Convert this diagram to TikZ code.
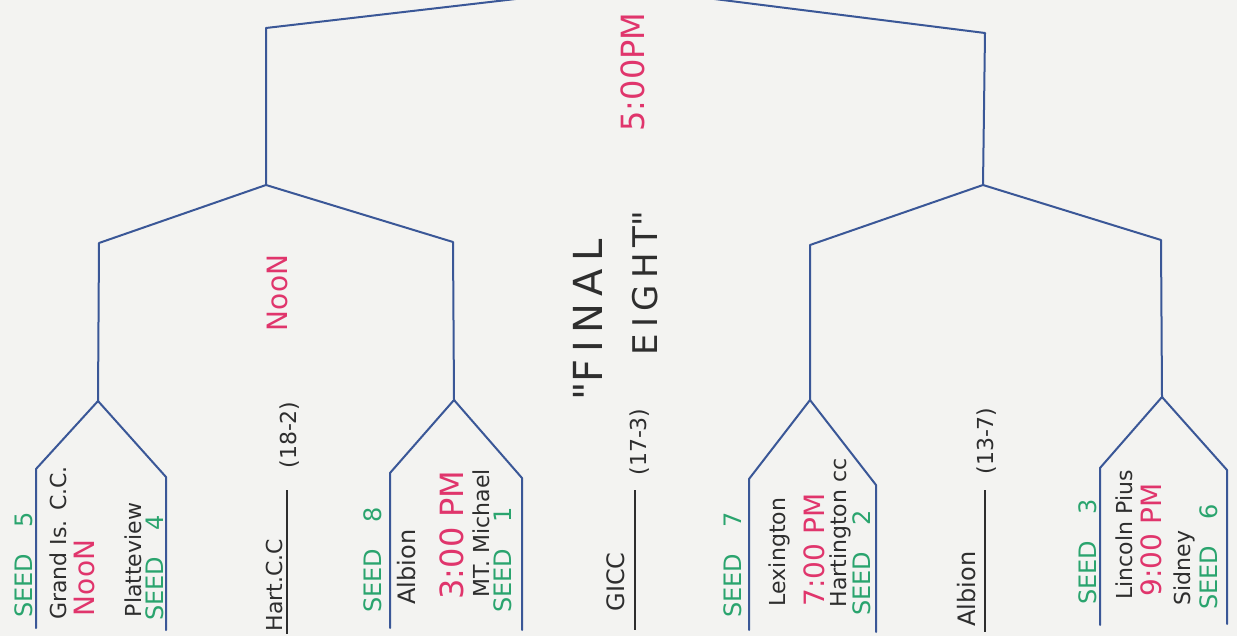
\documentclass[tikz,border=0pt]{standalone}
\usepackage{fontspec}
\setmainfont{DejaVu Sans}
\usetikzlibrary{positioning}
\definecolor{Paper}{HTML}{F3F3F1}
\definecolor{Pencil}{HTML}{2E2E2E}
\definecolor{BracketBlue}{HTML}{3A5797}
\definecolor{SeedGreen}{HTML}{2AA46E}
\definecolor{TimeRed}{HTML}{E0356C}
\tikzset{bline/.style={draw=BracketBlue,line width=1pt,line join=round,line cap=round},byeline/.style={draw=Pencil,line width=0.8pt},team/.style={rotate=90,inner sep=0pt,text=Pencil,font=\fontsize{11}{13}\selectfont},seed/.style={rotate=90,inner sep=0pt,text=SeedGreen,font=\fontsize{12}{14}\selectfont},gametime/.style={rotate=90,inner sep=0pt,text=TimeRed,font=\fontsize{14}{16}\selectfont},record/.style={rotate=90,inner sep=0pt,text=Pencil,font=\fontsize{11}{13}\selectfont},title/.style={rotate=90,inner sep=0pt,text=Pencil}}

\begin{document}
\begin{tikzpicture}[x=0.5pt,y=-0.5pt]
\fill[Paper] (0,0) rectangle (1237,636);
\useasboundingbox (0,0) rectangle (1237,636);
\clip (0,0) rectangle (1237,636);
% bracket joints
\coordinate (champ) at (619,-13);
\coordinate (topL) at (266,28);
\coordinate (topR) at (985,33);
\coordinate (s1) at (266,185);
\coordinate (s2) at (983,185);
\coordinate (s1a) at (99,243);
\coordinate (s1b) at (453,242);
\coordinate (s2a) at (810,245);
\coordinate (s2b) at (1161,240);
\coordinate (q1) at (98,401);
\coordinate (q2) at (454,400);
\coordinate (q3) at (810,400);
\coordinate (q4) at (1162,397);
\coordinate (q1a) at (36,469);
\coordinate (q1b) at (166,477);
\coordinate (q2a) at (390,473);
\coordinate (q2b) at (522,478);
\coordinate (q3a) at (749,479);
\coordinate (q3b) at (876,485);
\coordinate (q4a) at (1100,468);
\coordinate (q4b) at (1227,470);
\coordinate (q1aEnd) at (36,628);
\coordinate (q1bEnd) at (166,630);
\coordinate (q2aEnd) at (390,628);
\coordinate (q2bEnd) at (522,630);
\coordinate (q3aEnd) at (749,630);
\coordinate (q3bEnd) at (876,632);
\coordinate (q4aEnd) at (1100,625);
\coordinate (q4bEnd) at (1227,624);
\draw[bline] (s1) -- (topL) -- (champ) -- (topR) -- (s2);
\draw[bline] (q1) -- (s1a) -- (s1) -- (s1b) -- (q2);
\draw[bline] (q3) -- (s2a) -- (s2) -- (s2b) -- (q4);
\draw[bline] (q1aEnd) -- (q1a) -- (q1) -- (q1b) -- (q1bEnd);
\draw[bline] (q2aEnd) -- (q2a) -- (q2) -- (q2b) -- (q2bEnd);
\draw[bline] (q3aEnd) -- (q3a) -- (q3) -- (q3b) -- (q3bEnd);
\draw[bline] (q4aEnd) -- (q4a) -- (q4) -- (q4b) -- (q4bEnd);
% first quarter
\node[seed] (seedfive) at (24,565) {SEED\hspace{1.1em}5};
\node[team] (grandisland) at (58,543) {Grand Is. C.C.};
\node[gametime] (noonA) at (84,578) {NooN};
\node[team] (platteview) at (133,560) {Platteview};
\node[seed] (seedfour) at (155,568) {SEED\hspace{1.1em}4};
% second quarter
\node[seed] (seedeight) at (373,560) {SEED\hspace{1.1em}8};
\node[team,font=\fontsize{12}{14}\selectfont] (albionA) at (407,567) {Albion};
\node[gametime,font=\fontsize{16}{18}\selectfont] (threepm) at (452,535) {3:00 PM};
\node[team] (mtmichael) at (481,533) {MT. Michael};
\node[seed] (seedone) at (503,560) {SEED\hspace{1.1em}1};
% byes
\node[team] (hartcc) at (274,585) {Hart.C.C};
\coordinate (hartTop) at (287,490);
\coordinate (hartEnd) at (287,634);
\draw[byeline] (hartTop) -- (hartEnd);
\node[record] (hartrec) at (290,435) {(18-2)};
\node[team,font=\fontsize{12}{14}\selectfont] (gicc) at (616,582) {GICC};
\coordinate (giccTop) at (635,490);
\coordinate (giccEnd) at (635,630);
\draw[byeline] (giccTop) -- (giccEnd);
\node[record] (giccrec) at (640,442) {(17-3)};
\node[team,font=\fontsize{12}{14}\selectfont] (albionbye) at (967,589) {Albion};
\coordinate (albTop) at (985,490);
\coordinate (albEnd) at (985,632);
\draw[byeline] (albTop) -- (albEnd);
\node[record] (albrec) at (987,441) {(13-7)};
% middle
\node[gametime] (noonB) at (277,293) {NooN};
\node[title,font=\fontsize{20}{22}\selectfont\addfontfeature{LetterSpace=18}] (finaltxt) at (588,320) {\textquotedbl FINAL};
\node[title,font=\fontsize{17}{19}\selectfont\addfontfeature{LetterSpace=18}] (eighttxt) at (645,283) {EIGHT\textquotedbl};
\node[gametime,font=\fontsize{16}{18}\selectfont] (fivepm) at (633,72) {5:00PM};
% third quarter
\node[seed] (seedseven) at (733,565) {SEED\hspace{1.1em}7};
\node[team] (lexington) at (779,552) {Lexington};
\node[gametime] (sevenpm) at (814,550) {7:00 PM};
\node[team] (hartington) at (840,533) {Hartington cc};
\node[seed] (seedtwo) at (862,563) {SEED\hspace{1.1em}2};
% fourth quarter
\node[seed] (seedthree) at (1088,552) {SEED\hspace{1.1em}3};
\node[team] (lincoln) at (1124,535) {Lincoln Pius};
\node[gametime] (ninepm) at (1151,540) {9:00 PM};
\node[team] (sidney) at (1184,568) {Sidney};
\node[seed] (seedsix) at (1209,557) {SEED\hspace{1.1em}6};
\end{tikzpicture}
\end{document}
